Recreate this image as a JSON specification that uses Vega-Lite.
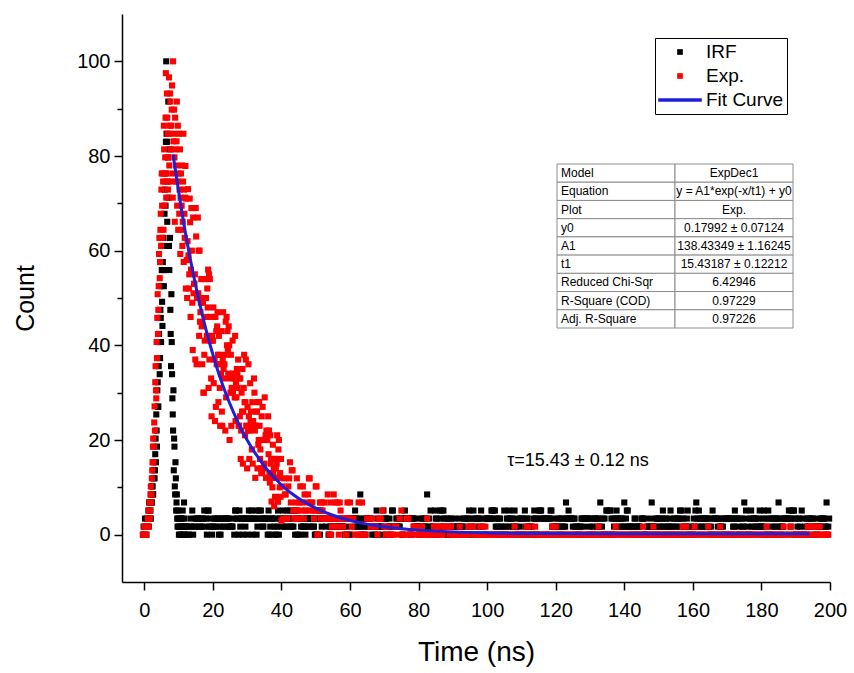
{
"$schema":"https://vega.github.io/schema/vega-lite/v6.json",
"width":708,"height":568,"autosize":"none",
"padding":{"left":122,"top":14,"right":24,"bottom":91},
"config":{"view":{"stroke":null},"font":"Liberation Sans","axis":{"labelFont":"Liberation Sans","titleFont":"Liberation Sans","labelColor":"#000","titleColor":"#000","domainColor":"#000","tickColor":"#000","titleFontWeight":"normal","grid":false,"domainWidth":1.5,"tickWidth":1.5,"labelOverlap":false,"labelFlush":false}},
"datasets":{
"irf":[{"t":-0.4,"c":0},{"t":-0.2,"c":1.7},{"t":0,"c":0},{"t":0.2,"c":3.4},{"t":0.4,"c":1.7},{"t":0.6,"c":0},{"t":0.8,"c":3.4},{"t":1,"c":1.7},{"t":1.2,"c":5.1},{"t":1.4,"c":6.8},{"t":1.6,"c":3.4},{"t":1.8,"c":5.1},{"t":2,"c":8.5},{"t":2.2,"c":6.8},{"t":2.4,"c":10.2},{"t":2.6,"c":8.5},{"t":2.8,"c":13.6},{"t":3,"c":11.9},{"t":3.2,"c":17},{"t":3.4,"c":15.3},{"t":3.6,"c":22},{"t":3.8,"c":30.5},{"t":4,"c":27},{"t":4.2,"c":35.6},{"t":4.4,"c":40.7},{"t":4.6,"c":37.3},{"t":4.8,"c":45.8},{"t":5,"c":52.5},{"t":5.2,"c":49.2},{"t":5.4,"c":57.6},{"t":5.6,"c":62.7},{"t":5.8,"c":55.9},{"t":6,"c":72.9},{"t":6.2,"c":69.5},{"t":6.4,"c":100},{"t":6.6,"c":83},{"t":6.8,"c":74.6},{"t":7,"c":91.5},{"t":7.2,"c":61},{"t":7.4,"c":81.4},{"t":7.6,"c":47.5},{"t":7.8,"c":35.6},{"t":8,"c":40.7},{"t":8.2,"c":28.8},{"t":8.4,"c":22},{"t":8.6,"c":13.6},{"t":8.8,"c":18.6},{"t":9,"c":8.5},{"t":9.2,"c":11.9},{"t":9.4,"c":6.8},{"t":9.6,"c":3.4},{"t":9.8,"c":5.1},{"t":10,"c":1.7},{"t":10.2,"c":3.4},{"t":10.4,"c":0},{"t":10.6,"c":1.7},{"t":10.8,"c":3.4},{"t":11,"c":1.7},{"t":11.2,"c":5.1},{"t":11.4,"c":0},{"t":11.6,"c":6.8},{"t":11.8,"c":1.7},
{"t":1.1,"c":3.4},{"t":1.3,"c":1.7},{"t":1.5,"c":5.1},{"t":1.7,"c":6.8},{"t":1.9,"c":3.4},{"t":2.1,"c":6.8},{"t":2.3,"c":10.2},{"t":2.5,"c":8.5},{"t":2.7,"c":11.9},{"t":2.9,"c":15.3},{"t":3.1,"c":13.6},{"t":3.3,"c":20.3},{"t":3.5,"c":25.4},{"t":3.7,"c":18.6},{"t":3.9,"c":32.2},{"t":4.1,"c":27.1},{"t":4.3,"c":42.4},{"t":4.5,"c":33.9},{"t":4.7,"c":47.5},{"t":4.9,"c":40.7},{"t":5.1,"c":55.9},{"t":5.3,"c":44.1},{"t":5.5,"c":61},{"t":5.7,"c":52.5},{"t":5.9,"c":67.8},{"t":6.1,"c":76.3},{"t":6.3,"c":83},{"t":6.5,"c":84.7},{"t":6.7,"c":66.1},{"t":6.9,"c":79.7},{"t":7.1,"c":71.2},{"t":7.3,"c":55.9},{"t":7.5,"c":62.7},{"t":7.7,"c":42.4},{"t":7.9,"c":50.8},{"t":8.1,"c":33.9},{"t":8.3,"c":25.4},{"t":8.5,"c":30.5},{"t":8.7,"c":20.3},{"t":8.9,"c":10.2},{"t":9.1,"c":15.3},{"t":9.3,"c":5.1},{"t":9.5,"c":8.5},{"t":9.7,"c":1.7},{"t":9.9,"c":3.4},{"t":10.1,"c":0},{"t":10.3,"c":1.7},{"t":10.5,"c":3.4},{"t":10.7,"c":0},{"t":10.9,"c":1.7},{"t":11.1,"c":3.4},{"t":11.3,"c":1.7},{"t":11.5,"c":0},{"t":11.7,"c":3.4},{"t":11.9,"c":1.7},
{"t":12,"c":0},{"t":12.5,"c":1.7},{"t":13,"c":0},{"t":13.5,"c":3.4},{"t":14,"c":5.1},{"t":14.5,"c":1.7},{"t":15,"c":3.4},{"t":15.5,"c":3.4},{"t":16,"c":1.7},{"t":16.5,"c":3.4},
{"t":17,"c":3.4},{"t":17.5,"c":5.1},{"t":18,"c":3.4},{"t":18.5,"c":5.1},{"t":19,"c":1.7},{"t":19.5,"c":1.7},{"t":20,"c":1.7},{"t":20.5,"c":3.4},{"t":21,"c":1.7},{"t":21.5,"c":3.4},
{"t":22,"c":1.7},{"t":22.5,"c":3.4},{"t":23,"c":1.7},{"t":23.5,"c":1.7},{"t":24,"c":3.4},{"t":24.5,"c":3.4},{"t":25,"c":1.7},{"t":25.5,"c":1.7},{"t":26,"c":3.4},{"t":26.5,"c":5.1},
{"t":27,"c":3.4},{"t":27.5,"c":0},{"t":28,"c":1.7},{"t":28.5,"c":3.4},{"t":29,"c":3.4},{"t":29.5,"c":1.7},{"t":30,"c":0},{"t":30.5,"c":5.1},{"t":31,"c":3.4},{"t":31.5,"c":0},
{"t":32,"c":3.4},{"t":32.5,"c":5.1},{"t":33,"c":1.7},{"t":33.5,"c":5.1},{"t":34,"c":5.1},{"t":34.5,"c":1.7},{"t":35,"c":3.4},{"t":35.5,"c":3.4},{"t":36,"c":0},{"t":36.5,"c":0},
{"t":37,"c":3.4},{"t":37.5,"c":3.4},{"t":38,"c":1.7},{"t":38.5,"c":0},{"t":39,"c":5.1},{"t":39.5,"c":3.4},{"t":40,"c":1.7},{"t":40.5,"c":5.1},{"t":41,"c":1.7},{"t":41.5,"c":1.7},
{"t":42,"c":3.4},{"t":42.5,"c":5.1},{"t":43,"c":1.7},{"t":43.5,"c":1.7},{"t":44,"c":0},{"t":44.5,"c":3.4},{"t":45,"c":3.4},{"t":45.5,"c":0},{"t":46,"c":3.4},{"t":46.5,"c":1.7},
{"t":47,"c":0},{"t":47.5,"c":3.4},{"t":48,"c":1.7},{"t":48.5,"c":3.4},{"t":49,"c":3.4},{"t":49.5,"c":1.7},{"t":50,"c":0},{"t":50.5,"c":3.4},{"t":51,"c":5.1},{"t":51.5,"c":5.1},
{"t":52,"c":3.4},{"t":52.5,"c":3.4},{"t":53,"c":1.7},{"t":53.5,"c":3.4},{"t":54,"c":0},{"t":54.5,"c":1.7},{"t":55,"c":1.7},{"t":55.5,"c":3.4},{"t":56,"c":1.7},{"t":56.5,"c":3.4},
{"t":57,"c":1.7},{"t":57.5,"c":1.7},{"t":58,"c":1.7},{"t":58.5,"c":0},{"t":59,"c":0},{"t":59.5,"c":3.4},{"t":60,"c":0},{"t":60.5,"c":3.4},{"t":61,"c":3.4},{"t":61.5,"c":5.1},
{"t":62,"c":3.4},{"t":62.5,"c":1.7},{"t":63,"c":8.5},{"t":63.5,"c":1.7},{"t":64,"c":3.4},{"t":64.5,"c":0},{"t":65,"c":3.4},{"t":65.5,"c":3.4},{"t":66,"c":3.4},{"t":66.5,"c":0},
{"t":67,"c":1.7},{"t":67.5,"c":1.7},{"t":68,"c":3.4},{"t":68.5,"c":1.7},{"t":69,"c":1.7},{"t":69.5,"c":0},{"t":70,"c":3.4},{"t":70.5,"c":3.4},{"t":71,"c":1.7},{"t":71.5,"c":3.4},
{"t":72,"c":0},{"t":72.5,"c":5.1},{"t":73,"c":1.7},{"t":73.5,"c":3.4},{"t":74,"c":1.7},{"t":74.5,"c":1.7},{"t":75,"c":3.4},{"t":75.5,"c":0},{"t":76,"c":5.1},{"t":76.5,"c":3.4},
{"t":77,"c":3.4},{"t":77.5,"c":0},{"t":78,"c":3.4},{"t":78.5,"c":3.4},{"t":79,"c":1.7},{"t":79.5,"c":1.7},{"t":80,"c":1.7},{"t":80.5,"c":0},{"t":81,"c":3.4},{"t":81.5,"c":1.7},
{"t":82,"c":3.4},{"t":82.5,"c":8.5},{"t":83,"c":3.4},{"t":83.5,"c":5.1},{"t":84,"c":1.7},{"t":84.5,"c":0},{"t":85,"c":3.4},{"t":85.5,"c":0},{"t":86,"c":1.7},{"t":86.5,"c":3.4},
{"t":87,"c":1.7},{"t":87.5,"c":3.4},{"t":88,"c":0},{"t":88.5,"c":0},{"t":89,"c":0},{"t":89.5,"c":3.4},{"t":90,"c":1.7},{"t":90.5,"c":3.4},{"t":91,"c":0},{"t":91.5,"c":1.7},
{"t":92,"c":3.4},{"t":92.5,"c":1.7},{"t":93,"c":0},{"t":93.5,"c":0},{"t":94,"c":1.7},{"t":94.5,"c":3.4},{"t":95,"c":0},{"t":95.5,"c":0},{"t":96,"c":5.1},{"t":96.5,"c":1.7},
{"t":97,"c":3.4},{"t":97.5,"c":3.4},{"t":98,"c":1.7},{"t":98.5,"c":0},{"t":99,"c":0},{"t":99.5,"c":0},{"t":100,"c":3.4},{"t":100.5,"c":3.4},{"t":101,"c":3.4},{"t":101.5,"c":5.1},
{"t":102,"c":3.4},{"t":102.5,"c":1.7},{"t":103,"c":1.7},{"t":103.5,"c":3.4},{"t":104,"c":1.7},{"t":104.5,"c":1.7},{"t":105,"c":5.1},{"t":105.5,"c":1.7},{"t":106,"c":3.4},{"t":106.5,"c":5.1},
{"t":107,"c":3.4},{"t":107.5,"c":1.7},{"t":108,"c":5.1},{"t":108.5,"c":1.7},{"t":109,"c":0},{"t":109.5,"c":1.7},{"t":110,"c":3.4},{"t":110.5,"c":0},{"t":111,"c":5.1},{"t":111.5,"c":3.4},
{"t":112,"c":1.7},{"t":112.5,"c":1.7},{"t":113,"c":1.7},{"t":113.5,"c":3.4},{"t":114,"c":3.4},{"t":114.5,"c":0},{"t":115,"c":0},{"t":115.5,"c":5.1},{"t":116,"c":3.4},{"t":116.5,"c":3.4},
{"t":117,"c":3.4},{"t":117.5,"c":3.4},{"t":118,"c":3.4},{"t":118.5,"c":5.1},{"t":119,"c":1.7},{"t":119.5,"c":1.7},{"t":120,"c":1.7},{"t":120.5,"c":1.7},{"t":121,"c":3.4},{"t":121.5,"c":0},
{"t":122,"c":1.7},{"t":122.5,"c":3.4},{"t":123,"c":6.8},{"t":123.5,"c":3.4},{"t":124,"c":3.4},{"t":124.5,"c":3.4},{"t":125,"c":1.7},{"t":125.5,"c":3.4},{"t":126,"c":1.7},{"t":126.5,"c":1.7},
{"t":127,"c":1.7},{"t":127.5,"c":3.4},{"t":128,"c":3.4},{"t":128.5,"c":3.4},{"t":129,"c":3.4},{"t":129.5,"c":3.4},{"t":130,"c":1.7},{"t":130.5,"c":0},{"t":131,"c":3.4},{"t":131.5,"c":3.4},
{"t":132,"c":1.7},{"t":132.5,"c":3.4},{"t":133,"c":6.8},{"t":133.5,"c":1.7},{"t":134,"c":0},{"t":134.5,"c":0},{"t":135,"c":5.1},{"t":135.5,"c":0},{"t":136,"c":5.1},{"t":136.5,"c":0},
{"t":137,"c":1.7},{"t":137.5,"c":3.4},{"t":138,"c":3.4},{"t":138.5,"c":1.7},{"t":139,"c":3.4},{"t":139.5,"c":3.4},{"t":140,"c":6.8},{"t":140.5,"c":3.4},{"t":141,"c":5.1},{"t":141.5,"c":1.7},
{"t":142,"c":1.7},{"t":142.5,"c":1.7},{"t":143,"c":3.4},{"t":143.5,"c":0},{"t":144,"c":1.7},{"t":144.5,"c":1.7},{"t":145,"c":3.4},{"t":145.5,"c":3.4},{"t":146,"c":0},{"t":146.5,"c":0},
{"t":147,"c":1.7},{"t":147.5,"c":3.4},{"t":148,"c":6.8},{"t":148.5,"c":1.7},{"t":149,"c":1.7},{"t":149.5,"c":3.4},{"t":150,"c":3.4},{"t":150.5,"c":1.7},{"t":151,"c":3.4},{"t":151.5,"c":1.7},
{"t":152,"c":0},{"t":152.5,"c":1.7},{"t":153,"c":1.7},{"t":153.5,"c":5.1},{"t":154,"c":1.7},{"t":154.5,"c":3.4},{"t":155,"c":0},{"t":155.5,"c":3.4},{"t":156,"c":1.7},{"t":156.5,"c":3.4},
{"t":157,"c":0},{"t":157.5,"c":1.7},{"t":158,"c":1.7},{"t":158.5,"c":5.1},{"t":159,"c":0},{"t":159.5,"c":1.7},{"t":160,"c":0},{"t":160.5,"c":1.7},{"t":161,"c":6.8},{"t":161.5,"c":1.7},
{"t":162,"c":3.4},{"t":162.5,"c":1.7},{"t":163,"c":1.7},{"t":163.5,"c":3.4},{"t":164,"c":3.4},{"t":164.5,"c":3.4},{"t":165,"c":0},{"t":165.5,"c":0},{"t":166,"c":3.4},{"t":166.5,"c":3.4},
{"t":167,"c":0},{"t":167.5,"c":3.4},{"t":168,"c":1.7},{"t":168.5,"c":0},{"t":169,"c":3.4},{"t":169.5,"c":3.4},{"t":170,"c":3.4},{"t":170.5,"c":3.4},{"t":171,"c":0},{"t":171.5,"c":3.4},
{"t":172,"c":1.7},{"t":172.5,"c":3.4},{"t":173,"c":3.4},{"t":173.5,"c":0},{"t":174,"c":3.4},{"t":174.5,"c":1.7},{"t":175,"c":6.8},{"t":175.5,"c":5.1},{"t":176,"c":1.7},{"t":176.5,"c":0},
{"t":177,"c":5.1},{"t":177.5,"c":3.4},{"t":178,"c":1.7},{"t":178.5,"c":3.4},{"t":179,"c":1.7},{"t":179.5,"c":5.1},{"t":180,"c":1.7},{"t":180.5,"c":3.4},{"t":181,"c":1.7},{"t":181.5,"c":0},
{"t":182,"c":5.1},{"t":182.5,"c":0},{"t":183,"c":3.4},{"t":183.5,"c":0},{"t":184,"c":3.4},{"t":184.5,"c":1.7},{"t":185,"c":6.8},{"t":185.5,"c":1.7},{"t":186,"c":1.7},{"t":186.5,"c":3.4},
{"t":187,"c":3.4},{"t":187.5,"c":3.4},{"t":188,"c":5.1},{"t":188.5,"c":1.7},{"t":189,"c":3.4},{"t":189.5,"c":5.1},{"t":190,"c":0},{"t":190.5,"c":1.7},{"t":191,"c":3.4},{"t":191.5,"c":0},
{"t":192,"c":0},{"t":192.5,"c":0},{"t":193,"c":0},{"t":193.5,"c":1.7},{"t":194,"c":1.7},{"t":194.5,"c":0},{"t":195,"c":3.4},{"t":195.5,"c":1.7},{"t":196,"c":0},{"t":196.5,"c":3.4},
{"t":197,"c":1.7},{"t":197.5,"c":3.4},{"t":198,"c":3.4},{"t":198.5,"c":1.7},{"t":199,"c":6.8},{"t":199.5,"c":1.7},
{"t":12.25,"c":1.7},{"t":12.75,"c":0},{"t":13.25,"c":1.7},{"t":13.75,"c":1.7},{"t":14.25,"c":0},{"t":14.75,"c":1.7},{"t":15.25,"c":3.4},{"t":15.75,"c":3.4},{"t":16.25,"c":1.7},{"t":16.75,"c":1.7},
{"t":17.25,"c":3.4},{"t":17.75,"c":1.7},{"t":18.25,"c":0},{"t":18.75,"c":5.1},{"t":19.25,"c":3.4},{"t":19.75,"c":0},{"t":20.25,"c":1.7},{"t":20.75,"c":3.4},{"t":21.25,"c":3.4},{"t":21.75,"c":0},
{"t":22.25,"c":0},{"t":22.75,"c":3.4},{"t":23.25,"c":3.4},{"t":23.75,"c":3.4},{"t":24.25,"c":3.4},{"t":24.75,"c":1.7},{"t":25.25,"c":1.7},{"t":25.75,"c":1.7},{"t":26.25,"c":0},{"t":26.75,"c":5.1},
{"t":27.25,"c":3.4},{"t":27.75,"c":5.1},{"t":28.25,"c":3.4},{"t":28.75,"c":0},{"t":29.25,"c":3.4},{"t":29.75,"c":3.4},{"t":30.25,"c":3.4},{"t":30.75,"c":3.4},{"t":31.25,"c":5.1},{"t":31.75,"c":3.4},
{"t":32.25,"c":3.4},{"t":32.75,"c":0},{"t":33.25,"c":3.4},{"t":33.75,"c":3.4},{"t":34.25,"c":3.4},{"t":34.75,"c":1.7},{"t":35.25,"c":3.4},{"t":35.75,"c":3.4},{"t":36.25,"c":5.1},{"t":36.75,"c":1.7},
{"t":37.25,"c":3.4},{"t":37.75,"c":0},{"t":38.25,"c":3.4},{"t":38.75,"c":1.7},{"t":39.25,"c":0},{"t":39.75,"c":3.4},{"t":40.25,"c":3.4},{"t":40.75,"c":3.4},{"t":41.25,"c":3.4},{"t":41.75,"c":5.1},
{"t":42.25,"c":3.4},{"t":42.75,"c":1.7},{"t":43.25,"c":3.4},{"t":43.75,"c":5.1},{"t":44.25,"c":5.1},{"t":44.75,"c":0},{"t":45.25,"c":3.4},{"t":45.75,"c":1.7},{"t":46.25,"c":1.7},{"t":46.75,"c":1.7},
{"t":47.25,"c":3.4},{"t":47.75,"c":3.4},{"t":48.25,"c":1.7},{"t":48.75,"c":3.4},{"t":49.25,"c":1.7},{"t":49.75,"c":0},{"t":50.25,"c":0},{"t":50.75,"c":3.4},{"t":51.25,"c":0},{"t":51.75,"c":1.7},
{"t":52.25,"c":3.4},{"t":52.75,"c":3.4},{"t":53.25,"c":3.4},{"t":53.75,"c":0},{"t":54.25,"c":1.7},{"t":54.75,"c":3.4},{"t":55.25,"c":3.4},{"t":55.75,"c":3.4},{"t":56.25,"c":1.7},{"t":56.75,"c":1.7},
{"t":57.25,"c":1.7},{"t":57.75,"c":1.7},{"t":58.25,"c":3.4},{"t":58.75,"c":3.4},{"t":59.25,"c":1.7},{"t":59.75,"c":0},{"t":60.25,"c":3.4},{"t":60.75,"c":3.4},{"t":61.25,"c":1.7},{"t":61.75,"c":3.4},
{"t":62.25,"c":1.7},{"t":62.75,"c":3.4},{"t":63.25,"c":0},{"t":63.75,"c":0},{"t":64.25,"c":1.7},{"t":64.75,"c":3.4},{"t":65.25,"c":1.7},{"t":65.75,"c":3.4},{"t":66.25,"c":1.7},{"t":66.75,"c":1.7},
{"t":67.25,"c":0},{"t":67.75,"c":5.1},{"t":68.25,"c":0},{"t":68.75,"c":1.7},{"t":69.25,"c":1.7},{"t":69.75,"c":5.1},{"t":70.25,"c":3.4},{"t":70.75,"c":0},{"t":71.25,"c":1.7},{"t":71.75,"c":1.7},
{"t":72.25,"c":5.1},{"t":72.75,"c":1.7},{"t":73.25,"c":1.7},{"t":73.75,"c":3.4},{"t":74.25,"c":1.7},{"t":74.75,"c":3.4},{"t":75.25,"c":0},{"t":75.75,"c":3.4},{"t":76.25,"c":3.4},{"t":76.75,"c":3.4},
{"t":77.25,"c":3.4},{"t":77.75,"c":0},{"t":78.25,"c":3.4},{"t":78.75,"c":1.7},{"t":79.25,"c":3.4},{"t":79.75,"c":1.7},{"t":80.25,"c":0},{"t":80.75,"c":1.7},{"t":81.25,"c":3.4},{"t":81.75,"c":1.7},
{"t":82.25,"c":1.7},{"t":82.75,"c":0},{"t":83.25,"c":1.7},{"t":83.75,"c":0},{"t":84.25,"c":1.7},{"t":84.75,"c":5.1},{"t":85.25,"c":3.4},{"t":85.75,"c":0},{"t":86.25,"c":5.1},{"t":86.75,"c":5.1},
{"t":87.25,"c":5.1},{"t":87.75,"c":1.7},{"t":88.25,"c":3.4},{"t":88.75,"c":3.4},{"t":89.25,"c":1.7},{"t":89.75,"c":0},{"t":90.25,"c":1.7},{"t":90.75,"c":0},{"t":91.25,"c":1.7},{"t":91.75,"c":1.7},
{"t":92.25,"c":1.7},{"t":92.75,"c":1.7},{"t":93.25,"c":3.4},{"t":93.75,"c":3.4},{"t":94.25,"c":3.4},{"t":94.75,"c":5.1},{"t":95.25,"c":1.7},{"t":95.75,"c":3.4},{"t":96.25,"c":3.4},{"t":96.75,"c":0},
{"t":97.25,"c":3.4},{"t":97.75,"c":3.4},{"t":98.25,"c":5.1},{"t":98.75,"c":1.7},{"t":99.25,"c":3.4},{"t":99.75,"c":3.4},{"t":100.25,"c":3.4},{"t":100.75,"c":3.4},{"t":101.25,"c":5.1},{"t":101.75,"c":5.1},
{"t":102.25,"c":5.1},{"t":102.75,"c":3.4},{"t":103.25,"c":0},{"t":103.75,"c":3.4},{"t":104.25,"c":0},{"t":104.75,"c":0},{"t":105.25,"c":0},{"t":105.75,"c":3.4},{"t":106.25,"c":1.7},{"t":106.75,"c":3.4},
{"t":107.25,"c":3.4},{"t":107.75,"c":1.7},{"t":108.25,"c":0},{"t":108.75,"c":3.4},{"t":109.25,"c":0},{"t":109.75,"c":3.4},{"t":110.25,"c":3.4},{"t":110.75,"c":0},{"t":111.25,"c":1.7},{"t":111.75,"c":3.4},
{"t":112.25,"c":0},{"t":112.75,"c":0},{"t":113.25,"c":0},{"t":113.75,"c":5.1},{"t":114.25,"c":3.4},{"t":114.75,"c":3.4},{"t":115.25,"c":5.1},{"t":115.75,"c":5.1},{"t":116.25,"c":3.4},{"t":116.75,"c":0},
{"t":117.25,"c":3.4},{"t":117.75,"c":0},{"t":118.25,"c":3.4},{"t":118.75,"c":5.1},{"t":119.25,"c":3.4},{"t":119.75,"c":0},{"t":120.25,"c":1.7},{"t":120.75,"c":3.4},{"t":121.25,"c":1.7},{"t":121.75,"c":3.4},
{"t":122.25,"c":1.7},{"t":122.75,"c":1.7},{"t":123.25,"c":3.4},{"t":123.75,"c":5.1},{"t":124.25,"c":3.4},{"t":124.75,"c":3.4},{"t":125.25,"c":3.4},{"t":125.75,"c":1.7},{"t":126.25,"c":0},{"t":126.75,"c":0},
{"t":127.25,"c":1.7},{"t":127.75,"c":3.4},{"t":128.25,"c":1.7},{"t":128.75,"c":3.4},{"t":129.25,"c":3.4},{"t":129.75,"c":0},{"t":130.25,"c":3.4},{"t":130.75,"c":1.7},{"t":131.25,"c":0},{"t":131.75,"c":3.4},
{"t":132.25,"c":3.4},{"t":132.75,"c":1.7},{"t":133.25,"c":0},{"t":133.75,"c":3.4},{"t":134.25,"c":3.4},{"t":134.75,"c":5.1},{"t":135.25,"c":0},{"t":135.75,"c":5.1},{"t":136.25,"c":3.4},{"t":136.75,"c":3.4},
{"t":137.25,"c":0},{"t":137.75,"c":5.1},{"t":138.25,"c":3.4},{"t":138.75,"c":3.4},{"t":139.25,"c":1.7},{"t":139.75,"c":1.7},{"t":140.25,"c":1.7},{"t":140.75,"c":5.1},{"t":141.25,"c":1.7},{"t":141.75,"c":1.7},
{"t":142.25,"c":0},{"t":142.75,"c":1.7},{"t":143.25,"c":3.4},{"t":143.75,"c":1.7},{"t":144.25,"c":1.7},{"t":144.75,"c":0},{"t":145.25,"c":3.4},{"t":145.75,"c":3.4},{"t":146.25,"c":0},{"t":146.75,"c":1.7},
{"t":147.25,"c":1.7},{"t":147.75,"c":1.7},{"t":148.25,"c":0},{"t":148.75,"c":1.7},{"t":149.25,"c":3.4},{"t":149.75,"c":0},{"t":150.25,"c":3.4},{"t":150.75,"c":1.7},{"t":151.25,"c":5.1},{"t":151.75,"c":3.4},
{"t":152.25,"c":3.4},{"t":152.75,"c":1.7},{"t":153.25,"c":3.4},{"t":153.75,"c":0},{"t":154.25,"c":1.7},{"t":154.75,"c":3.4},{"t":155.25,"c":1.7},{"t":155.75,"c":3.4},{"t":156.25,"c":5.1},{"t":156.75,"c":5.1},
{"t":157.25,"c":3.4},{"t":157.75,"c":1.7},{"t":158.25,"c":3.4},{"t":158.75,"c":0},{"t":159.25,"c":1.7},{"t":159.75,"c":0},{"t":160.25,"c":3.4},{"t":160.75,"c":5.1},{"t":161.25,"c":3.4},{"t":161.75,"c":5.1},
{"t":162.25,"c":3.4},{"t":162.75,"c":3.4},{"t":163.25,"c":3.4},{"t":163.75,"c":1.7},{"t":164.25,"c":3.4},{"t":164.75,"c":1.7},{"t":165.25,"c":1.7},{"t":165.75,"c":5.1},{"t":166.25,"c":3.4},{"t":166.75,"c":3.4},
{"t":167.25,"c":1.7},{"t":167.75,"c":3.4},{"t":168.25,"c":1.7},{"t":168.75,"c":1.7},{"t":169.25,"c":0},{"t":169.75,"c":3.4},{"t":170.25,"c":0},{"t":170.75,"c":3.4},{"t":171.25,"c":3.4},{"t":171.75,"c":1.7},
{"t":172.25,"c":5.1},{"t":172.75,"c":3.4},{"t":173.25,"c":1.7},{"t":173.75,"c":0},{"t":174.25,"c":3.4},{"t":174.75,"c":1.7},{"t":175.25,"c":0},{"t":175.75,"c":3.4},{"t":176.25,"c":0},{"t":176.75,"c":3.4},
{"t":177.25,"c":1.7},{"t":177.75,"c":3.4},{"t":178.25,"c":3.4},{"t":178.75,"c":1.7},{"t":179.25,"c":3.4},{"t":179.75,"c":1.7},{"t":180.25,"c":1.7},{"t":180.75,"c":5.1},{"t":181.25,"c":3.4},{"t":181.75,"c":0},
{"t":182.25,"c":3.4},{"t":182.75,"c":1.7},{"t":183.25,"c":3.4},{"t":183.75,"c":1.7},{"t":184.25,"c":3.4},{"t":184.75,"c":3.4},{"t":185.25,"c":3.4},{"t":185.75,"c":0},{"t":186.25,"c":1.7},{"t":186.75,"c":3.4},
{"t":187.25,"c":3.4},{"t":187.75,"c":3.4},{"t":188.25,"c":3.4},{"t":188.75,"c":5.1},{"t":189.25,"c":5.1},{"t":189.75,"c":3.4},{"t":190.25,"c":0},{"t":190.75,"c":3.4},{"t":191.25,"c":1.7},{"t":191.75,"c":5.1},
{"t":192.25,"c":3.4},{"t":192.75,"c":1.7},{"t":193.25,"c":3.4},{"t":193.75,"c":3.4},{"t":194.25,"c":3.4},{"t":194.75,"c":3.4},{"t":195.25,"c":1.7},{"t":195.75,"c":1.7},{"t":196.25,"c":0},{"t":196.75,"c":1.7},
{"t":197.25,"c":1.7},{"t":197.75,"c":3.4},{"t":198.25,"c":3.4},{"t":198.75,"c":1.7},{"t":199.25,"c":0},{"t":199.75,"c":3.4}],
"exp":[{"t":-0.4,"c":0},{"t":-0.2,"c":0},{"t":0,"c":1.7},{"t":0.2,"c":0},{"t":0.4,"c":1.7},{"t":0.6,"c":0},{"t":0.8,"c":1.7},{"t":1,"c":3.4},{"t":1.2,"c":1.7},{"t":1.4,"c":5.1},{"t":1.6,"c":3.4},{"t":1.8,"c":8.5},{"t":2,"c":6.8},{"t":2.2,"c":11.9},{"t":2.4,"c":15.3},{"t":2.6,"c":20.3},{"t":2.8,"c":18.6},{"t":3,"c":27.1},{"t":3.2,"c":32.2},{"t":3.4,"c":30.5},{"t":3.6,"c":40.7},{"t":3.8,"c":45.8},{"t":4,"c":42.4},{"t":4.2,"c":52.5},{"t":4.4,"c":62.7},{"t":4.6,"c":57.6},{"t":4.8,"c":67.8},{"t":5,"c":72.9},{"t":5.2,"c":69.5},{"t":5.4,"c":76.3},{"t":5.6,"c":64.4},{"t":5.8,"c":81.4},{"t":6,"c":74.6},{"t":6.2,"c":88.1},{"t":6.4,"c":71.2},{"t":6.6,"c":93.2},{"t":6.8,"c":84.7},{"t":7,"c":79.7},{"t":7.2,"c":96.6},{"t":7.4,"c":86.4},{"t":7.6,"c":91.5},{"t":7.8,"c":81.4},{"t":8,"c":89.8},{"t":8.2,"c":76.3},{"t":8.4,"c":100},{"t":8.6,"c":84.7},{"t":8.8,"c":79.7},{"t":9,"c":88.1},{"t":9.2,"c":74.6},{"t":9.4,"c":83.1},{"t":9.6,"c":69.5},{"t":9.8,"c":86.4},{"t":10,"c":76.3},{"t":10.2,"c":67.8},{"t":10.4,"c":81.4},{"t":10.6,"c":71.2},{"t":10.8,"c":64.4},{"t":11,"c":78},{"t":11.2,"c":66.1},{"t":11.4,"c":84.7},{"t":11.6,"c":72.9},{"t":11.8,"c":62.7},{"t":12,"c":77.9},
{"t":1.1,"c":1.7},{"t":1.3,"c":3.4},{"t":1.5,"c":6.8},{"t":1.7,"c":5.1},{"t":1.9,"c":10.2},{"t":2.1,"c":8.5},{"t":2.3,"c":13.6},{"t":2.5,"c":18.6},{"t":2.7,"c":15.3},{"t":2.9,"c":23.7},{"t":3.1,"c":22},{"t":3.3,"c":35.6},{"t":3.5,"c":28.8},{"t":3.7,"c":37.3},{"t":3.9,"c":50.8},{"t":4.1,"c":47.5},{"t":4.3,"c":59.3},{"t":4.5,"c":54.2},{"t":4.7,"c":64.4},{"t":4.9,"c":61},{"t":5.1,"c":76.3},{"t":5.3,"c":62.7},{"t":5.5,"c":74.6},{"t":5.7,"c":86.4},{"t":5.9,"c":69.5},{"t":6.1,"c":79.7},{"t":6.3,"c":97.5},{"t":6.5,"c":76.3},{"t":6.7,"c":88.1},{"t":6.9,"c":72.9},{"t":7.1,"c":84.7},{"t":7.3,"c":78},{"t":7.5,"c":93.2},{"t":7.7,"c":74.6},{"t":7.9,"c":86.4},{"t":8.1,"c":94.9},{"t":8.3,"c":71.2},{"t":8.5,"c":83.1},{"t":8.7,"c":89.8},{"t":8.9,"c":66.1},{"t":9.1,"c":81.4},{"t":9.3,"c":78},{"t":9.5,"c":91.5},{"t":9.7,"c":74.6},{"t":9.9,"c":64.4},{"t":10.1,"c":84.7},{"t":10.3,"c":72.9},{"t":10.5,"c":59.3},{"t":10.7,"c":76.3},{"t":10.9,"c":69.5},{"t":11.1,"c":61},{"t":11.3,"c":74.6},{"t":11.5,"c":57.6},{"t":11.7,"c":67.8},{"t":11.9,"c":71.2},
{"t":12.25,"c":71},{"t":12.5,"c":50},{"t":12.75,"c":73},{"t":13,"c":52},{"t":13.25,"c":71},{"t":13.5,"c":46},{"t":13.75,"c":69},{"t":14,"c":49},{"t":14.25,"c":67},{"t":14.5,"c":53},{"t":14.75,"c":55},{"t":15,"c":69},{"t":15.25,"c":36},{"t":15.5,"c":50},{"t":15.75,"c":51},{"t":16,"c":42},{"t":16.25,"c":45},{"t":16.5,"c":49},{"t":16.75,"c":44},{"t":17,"c":50},{"t":17.25,"c":30},{"t":17.5,"c":38},{"t":17.75,"c":54},{"t":18,"c":50},{"t":18.25,"c":42},{"t":18.5,"c":48},{"t":18.75,"c":31},{"t":19,"c":37},{"t":19.25,"c":41},{"t":19.5,"c":33},{"t":19.75,"c":42},{"t":20,"c":41},{"t":20.25,"c":32},{"t":20.5,"c":37},{"t":20.75,"c":46},{"t":21,"c":43},{"t":21.25,"c":44},{"t":21.5,"c":38},{"t":21.75,"c":42},{"t":22,"c":31},{"t":22.25,"c":36},{"t":22.5,"c":43},{"t":22.75,"c":23},{"t":23,"c":47},{"t":23.25,"c":33},{"t":23.5,"c":38},{"t":23.75,"c":45},{"t":24,"c":46},{"t":24.25,"c":43},{"t":24.5,"c":34},{"t":24.75,"c":40},{"t":25,"c":33},{"t":25.25,"c":38},{"t":25.5,"c":31},{"t":25.75,"c":41},{"t":26,"c":34},{"t":26.25,"c":33},{"t":26.5,"c":42},{"t":26.75,"c":32},{"t":27,"c":35},{"t":27.25,"c":31},{"t":27.5,"c":23},{"t":27.75,"c":33},{"t":28,"c":33},{"t":28.25,"c":22},{"t":28.5,"c":26},{"t":28.75,"c":15},{"t":29,"c":31},{"t":29.25,"c":28},{"t":29.5,"c":28},{"t":29.75,"c":23},{"t":30,"c":14},{"t":30.25,"c":22},{"t":30.5,"c":25},{"t":30.75,"c":22},{"t":31,"c":24},{"t":31.25,"c":23},{"t":31.5,"c":28},{"t":31.75,"c":24},{"t":32,"c":33},{"t":32.25,"c":22},{"t":32.5,"c":23},{"t":32.75,"c":26},{"t":33,"c":14},{"t":33.25,"c":19},{"t":33.5,"c":28},{"t":33.75,"c":16},{"t":34,"c":14},{"t":34.25,"c":25},{"t":34.5,"c":27},{"t":34.75,"c":20},{"t":35,"c":15},{"t":35.25,"c":20},{"t":35.5,"c":12},{"t":35.75,"c":21},{"t":36,"c":21},{"t":36.25,"c":17},{"t":36.5,"c":13},{"t":36.75,"c":21},{"t":37,"c":16},{"t":37.25,"c":12},{"t":37.5,"c":19},{"t":37.75,"c":14},{"t":38,"c":16},{"t":38.25,"c":16},{"t":38.5,"c":12},{"t":38.75,"c":21},{"t":39,"c":7},{"t":39.25,"c":20},{"t":39.5,"c":10},{"t":39.75,"c":8},{"t":40,"c":3},
{"t":12.125,"c":52},{"t":12.375,"c":58},{"t":12.625,"c":62},{"t":12.875,"c":59},{"t":13.125,"c":55},{"t":13.375,"c":66},{"t":13.625,"c":56},{"t":13.875,"c":60},{"t":14.125,"c":39},{"t":14.375,"c":51},{"t":14.625,"c":53},{"t":14.875,"c":37},{"t":15.125,"c":63},{"t":15.375,"c":50},{"t":15.625,"c":67},{"t":15.875,"c":60},{"t":16.125,"c":60},{"t":16.375,"c":47},{"t":16.625,"c":54},{"t":16.875,"c":36},{"t":17.125,"c":49},{"t":17.375,"c":30},{"t":17.625,"c":41},{"t":17.875,"c":54},{"t":18.125,"c":46},{"t":18.375,"c":52},{"t":18.625,"c":56},{"t":18.875,"c":55},{"t":19.125,"c":54},{"t":19.375,"c":46},{"t":19.625,"c":25},{"t":19.875,"c":41},{"t":20.125,"c":48},{"t":20.375,"c":46},{"t":20.625,"c":24},{"t":20.875,"c":27},{"t":21.125,"c":36},{"t":21.375,"c":47},{"t":21.625,"c":28},{"t":21.875,"c":38},{"t":22.125,"c":23},{"t":22.375,"c":34},{"t":22.625,"c":26},{"t":22.875,"c":37},{"t":23.125,"c":35},{"t":23.375,"c":36},{"t":23.625,"c":22},{"t":23.875,"c":29},{"t":24.125,"c":40},{"t":24.375,"c":39},{"t":24.625,"c":44},{"t":24.875,"c":20},{"t":25.125,"c":30},{"t":25.375,"c":23},{"t":25.625,"c":34},{"t":25.875,"c":30},{"t":26.125,"c":31},{"t":26.375,"c":29},{"t":26.625,"c":24},{"t":26.875,"c":29},{"t":27.125,"c":34},{"t":27.375,"c":37},{"t":27.625,"c":23},{"t":27.875,"c":25},{"t":28.125,"c":16},{"t":28.375,"c":30},{"t":28.625,"c":35},{"t":28.875,"c":26},{"t":29.125,"c":38},{"t":29.375,"c":21},{"t":29.625,"c":37},{"t":29.875,"c":23},{"t":30.125,"c":27},{"t":30.375,"c":36},{"t":30.625,"c":16},{"t":30.875,"c":32},{"t":31.125,"c":26},{"t":31.375,"c":18},{"t":31.625,"c":15},{"t":31.875,"c":23},{"t":32.125,"c":30},{"t":32.375,"c":12},{"t":32.625,"c":23},{"t":32.875,"c":26},{"t":33.125,"c":28},{"t":33.375,"c":20},{"t":33.625,"c":23},{"t":33.875,"c":18},{"t":34.125,"c":13},{"t":34.375,"c":13},{"t":34.625,"c":14},{"t":34.875,"c":20},{"t":35.125,"c":29},{"t":35.375,"c":21},{"t":35.625,"c":22},{"t":35.875,"c":20},{"t":36.125,"c":25},{"t":36.375,"c":22},{"t":36.625,"c":11},{"t":36.875,"c":15},{"t":37.125,"c":7},{"t":37.375,"c":10},{"t":37.625,"c":13},{"t":37.875,"c":6},{"t":38.125,"c":8},{"t":38.375,"c":14},{"t":38.625,"c":15},{"t":38.875,"c":7},{"t":39.125,"c":18},{"t":39.375,"c":12},{"t":39.625,"c":13},{"t":39.875,"c":16},
{"t":40.25,"c":10.2},{"t":40.5,"c":3.4},{"t":40.75,"c":11.9},{"t":41,"c":8.5},{"t":41.25,"c":8.5},{"t":41.5,"c":3.4},{"t":41.75,"c":3.4},{"t":42,"c":10.2},{"t":42.25,"c":11.9},{"t":42.5,"c":15.3},{"t":42.75,"c":6.8},{"t":43,"c":13.6},{"t":43.25,"c":13.6},{"t":43.5,"c":5.1},{"t":43.75,"c":3.4},{"t":44,"c":3.4},{"t":44.25,"c":6.8},{"t":44.5,"c":11.9},{"t":44.75,"c":5.1},{"t":45,"c":3.4},{"t":45.25,"c":6.8},{"t":45.5,"c":10.2},{"t":45.75,"c":5.1},{"t":46,"c":6.8},{"t":46.25,"c":10.2},{"t":46.5,"c":3.4},{"t":46.75,"c":8.5},{"t":47,"c":5.1},{"t":47.25,"c":5.1},{"t":47.5,"c":6.8},{"t":47.75,"c":8.5},{"t":48,"c":11.9},{"t":48.25,"c":11.9},{"t":48.5,"c":6.8},{"t":48.75,"c":5.1},{"t":49,"c":6.8},{"t":49.25,"c":5.1},{"t":49.5,"c":3.4},{"t":49.75,"c":5.1},{"t":50,"c":10.2},{"t":50.25,"c":10.2},{"t":50.5,"c":0},{"t":50.75,"c":0},{"t":51,"c":5.1},{"t":51.25,"c":6.8},{"t":51.5,"c":3.4},{"t":51.75,"c":6.8},{"t":52,"c":5.1},{"t":52.25,"c":3.4},{"t":52.5,"c":6.8},{"t":52.75,"c":3.4},{"t":53,"c":3.4},{"t":53.25,"c":3.4},{"t":53.5,"c":8.5},{"t":53.75,"c":3.4},{"t":54,"c":0},{"t":54.25,"c":6.8},{"t":54.5,"c":0},{"t":54.75,"c":1.7},{"t":55,"c":3.4},{"t":55.25,"c":8.5},{"t":55.5,"c":3.4},{"t":55.75,"c":6.8},{"t":56,"c":3.4},{"t":56.25,"c":6.8},{"t":56.5,"c":1.7},{"t":56.75,"c":0},{"t":57,"c":6.8},{"t":57.25,"c":5.1},{"t":57.5,"c":3.4},{"t":57.75,"c":3.4},{"t":58,"c":1.7},{"t":58.25,"c":3.4},{"t":58.5,"c":3.4},{"t":58.75,"c":0},{"t":59,"c":0},{"t":59.25,"c":6.8},{"t":59.5,"c":3.4},{"t":59.75,"c":3.4},{"t":60,"c":6.8},
{"t":60.5,"c":1.7},{"t":61,"c":3.4},{"t":61.5,"c":0},{"t":62,"c":0},{"t":62.5,"c":6.8},{"t":63,"c":0},{"t":63.5,"c":6.8},{"t":64,"c":0},{"t":64.5,"c":0},{"t":65,"c":3.4},
{"t":65.5,"c":3.4},{"t":66,"c":1.7},{"t":66.5,"c":3.4},{"t":67,"c":1.7},{"t":67.5,"c":1.7},{"t":68,"c":0},{"t":68.5,"c":3.4},{"t":69,"c":3.4},{"t":69.5,"c":5.1},{"t":70,"c":1.7},
{"t":70.5,"c":0},{"t":71,"c":1.7},{"t":71.5,"c":0},{"t":72,"c":0},{"t":72.5,"c":0},{"t":73,"c":1.7},{"t":73.5,"c":1.7},{"t":74,"c":0},{"t":74.5,"c":3.4},{"t":75,"c":5.1},
{"t":75.5,"c":0},{"t":76,"c":0},{"t":76.5,"c":3.4},{"t":77,"c":3.4},{"t":77.5,"c":0},{"t":78,"c":0},{"t":78.5,"c":1.7},{"t":79,"c":1.7},{"t":79.5,"c":0},{"t":80,"c":0},
{"t":80.5,"c":1.7},{"t":81,"c":1.7},{"t":81.5,"c":0},{"t":82,"c":0},{"t":82.5,"c":3.4},{"t":83,"c":0},{"t":83.5,"c":0},{"t":84,"c":0},{"t":84.5,"c":1.7},{"t":85,"c":1.7},
{"t":85.5,"c":0},{"t":86,"c":0},{"t":86.5,"c":1.7},{"t":87,"c":0},{"t":87.5,"c":1.7},{"t":88,"c":1.7},{"t":88.5,"c":1.7},{"t":89,"c":0},{"t":89.5,"c":1.7},{"t":90,"c":0},
{"t":90.5,"c":0},{"t":91,"c":0},{"t":91.5,"c":0},{"t":92,"c":1.7},{"t":92.5,"c":0},{"t":93,"c":0},{"t":93.5,"c":0},{"t":94,"c":0},{"t":94.5,"c":1.7},{"t":95,"c":0},
{"t":95.5,"c":1.7},{"t":96,"c":1.7},{"t":96.5,"c":0},{"t":97,"c":0},{"t":97.5,"c":0},{"t":98,"c":1.7},{"t":98.5,"c":0},{"t":99,"c":0},{"t":99.5,"c":1.7},{"t":100,"c":0},
{"t":100.5,"c":0},{"t":101,"c":0},{"t":101.5,"c":0},{"t":102,"c":0},{"t":102.5,"c":0},{"t":103,"c":0},{"t":103.5,"c":0},{"t":104,"c":0},{"t":104.5,"c":0},{"t":105,"c":0},
{"t":105.5,"c":0},{"t":106,"c":0},{"t":106.5,"c":0},{"t":107,"c":0},{"t":107.5,"c":0},{"t":108,"c":1.7},{"t":108.5,"c":0},{"t":109,"c":0},{"t":109.5,"c":0},{"t":110,"c":0},
{"t":110.5,"c":0},{"t":111,"c":0},{"t":111.5,"c":1.7},{"t":112,"c":1.7},{"t":112.5,"c":0},{"t":113,"c":0},{"t":113.5,"c":0},{"t":114,"c":1.7},{"t":114.5,"c":0},{"t":115,"c":0},
{"t":115.5,"c":0},{"t":116,"c":0},{"t":116.5,"c":0},{"t":117,"c":0},{"t":117.5,"c":0},{"t":118,"c":0},{"t":118.5,"c":0},{"t":119,"c":1.7},{"t":119.5,"c":0},{"t":120,"c":1.7},
{"t":120.5,"c":0},{"t":121,"c":0},{"t":121.5,"c":0},{"t":122,"c":0},{"t":122.5,"c":0},{"t":123,"c":0},{"t":123.5,"c":0},{"t":124,"c":0},{"t":124.5,"c":0},{"t":125,"c":0},
{"t":125.5,"c":0},{"t":126,"c":0},{"t":126.5,"c":0},{"t":127,"c":0},{"t":127.5,"c":0},{"t":128,"c":0},{"t":128.5,"c":0},{"t":129,"c":0},{"t":129.5,"c":0},{"t":130,"c":0},
{"t":130.5,"c":0},{"t":131,"c":0},{"t":131.5,"c":0},{"t":132,"c":0},{"t":132.5,"c":1.7},{"t":133,"c":0},{"t":133.5,"c":0},{"t":134,"c":0},{"t":134.5,"c":0},{"t":135,"c":0},
{"t":135.5,"c":0},{"t":136,"c":0},{"t":136.5,"c":0},{"t":137,"c":0},{"t":137.5,"c":1.7},{"t":138,"c":0},{"t":138.5,"c":0},{"t":139,"c":0},{"t":139.5,"c":0},{"t":140,"c":0},
{"t":140.5,"c":0},{"t":141,"c":0},{"t":141.5,"c":0},{"t":142,"c":0},{"t":142.5,"c":0},{"t":143,"c":0},{"t":143.5,"c":0},{"t":144,"c":0},{"t":144.5,"c":0},{"t":145,"c":0},
{"t":145.5,"c":1.7},{"t":146,"c":0},{"t":146.5,"c":0},{"t":147,"c":0},{"t":147.5,"c":0},{"t":148,"c":0},{"t":148.5,"c":1.7},{"t":149,"c":0},{"t":149.5,"c":0},{"t":150,"c":0},
{"t":150.5,"c":0},{"t":151,"c":0},{"t":151.5,"c":0},{"t":152,"c":0},{"t":152.5,"c":0},{"t":153,"c":0},{"t":153.5,"c":0},{"t":154,"c":0},{"t":154.5,"c":0},{"t":155,"c":0},
{"t":155.5,"c":0},{"t":156,"c":0},{"t":156.5,"c":0},{"t":157,"c":1.7},{"t":157.5,"c":0},{"t":158,"c":1.7},{"t":158.5,"c":0},{"t":159,"c":0},{"t":159.5,"c":0},{"t":160,"c":0},
{"t":160.5,"c":1.7},{"t":161,"c":0},{"t":161.5,"c":0},{"t":162,"c":0},{"t":162.5,"c":0},{"t":163,"c":0},{"t":163.5,"c":0},{"t":164,"c":0},{"t":164.5,"c":1.7},{"t":165,"c":0},
{"t":165.5,"c":0},{"t":166,"c":0},{"t":166.5,"c":0},{"t":167,"c":0},{"t":167.5,"c":0},{"t":168,"c":1.7},{"t":168.5,"c":0},{"t":169,"c":0},{"t":169.5,"c":0},{"t":170,"c":0},
{"t":170.5,"c":0},{"t":171,"c":0},{"t":171.5,"c":0},{"t":172,"c":0},{"t":172.5,"c":0},{"t":173,"c":0},{"t":173.5,"c":0},{"t":174,"c":0},{"t":174.5,"c":0},{"t":175,"c":0},
{"t":175.5,"c":0},{"t":176,"c":0},{"t":176.5,"c":0},{"t":177,"c":0},{"t":177.5,"c":0},{"t":178,"c":0},{"t":178.5,"c":0},{"t":179,"c":0},{"t":179.5,"c":0},{"t":180,"c":0},
{"t":180.5,"c":0},{"t":181,"c":0},{"t":181.5,"c":1.7},{"t":182,"c":0},{"t":182.5,"c":0},{"t":183,"c":0},{"t":183.5,"c":0},{"t":184,"c":0},{"t":184.5,"c":0},{"t":185,"c":0},
{"t":185.5,"c":0},{"t":186,"c":0},{"t":186.5,"c":1.7},{"t":187,"c":0},{"t":187.5,"c":0},{"t":188,"c":0},{"t":188.5,"c":1.7},{"t":189,"c":0},{"t":189.5,"c":0},{"t":190,"c":0},
{"t":190.5,"c":0},{"t":191,"c":0},{"t":191.5,"c":0},{"t":192,"c":0},{"t":192.5,"c":0},{"t":193,"c":0},{"t":193.5,"c":1.7},{"t":194,"c":1.7},{"t":194.5,"c":0},{"t":195,"c":1.7},
{"t":195.5,"c":1.7},{"t":196,"c":0},{"t":196.5,"c":0},{"t":197,"c":1.7},{"t":197.5,"c":0},{"t":198,"c":0},{"t":198.5,"c":0},{"t":199,"c":0},{"t":199.5,"c":0}],
"fit":[{"t":8.4,"c":80.3},{"t":9,"c":77.4},{"t":10,"c":72.6},{"t":11,"c":68.0},{"t":12,"c":63.8},{"t":13,"c":59.8},{"t":14,"c":56.1},{"t":15,"c":52.6},{"t":16,"c":49.3},{"t":17,"c":46.2},{"t":18,"c":43.3},{"t":19,"c":40.6},{"t":20,"c":38.1},{"t":22,"c":33.4},{"t":24,"c":29.4},{"t":26,"c":25.9},{"t":28,"c":22.7},{"t":30,"c":20.0},{"t":32,"c":17.6},{"t":34,"c":15.5},{"t":36,"c":13.6},{"t":38,"c":12.0},{"t":40,"c":10.5},{"t":43,"c":8.7},{"t":46,"c":7.2},{"t":50,"c":5.6},{"t":55,"c":4.1},{"t":60,"c":3.0},{"t":65,"c":2.23},{"t":70,"c":1.66},{"t":75,"c":1.25},{"t":80,"c":0.96},{"t":90,"c":0.59},{"t":100,"c":0.39},{"t":110,"c":0.27},{"t":120,"c":0.24},{"t":135,"c":0.2},{"t":150,"c":0.19},{"t":170,"c":0.18},{"t":194,"c":0.18}],
"table":[{"row":1,"param":"Model","value":"ExpDec1"},{"row":2,"param":"Equation","value":"y = A1*exp(-x/t1) + y0"},{"row":3,"param":"Plot","value":"Exp."},{"row":4,"param":"y0","value":"0.17992 ± 0.07124"},{"row":5,"param":"A1","value":"138.43349 ± 1.16245"},{"row":6,"param":"t1","value":"15.43187 ± 0.12212"},{"row":7,"param":"Reduced Chi-Sqr","value":"6.42946"},{"row":8,"param":"R-Square (COD)","value":"0.97229"},{"row":9,"param":"Adj. R-Square","value":"0.97226"}]
},
"layer":[
{"layer":[
 {"data":{"name":"irf"},"mark":{"type":"point","filled":true,"size":2200,"opacity":1,"strokeWidth":0},
  "encoding":{
   "x":{"field":"t","type":"quantitative","scale":{"domain":[-6.5,200],"nice":false,"zero":false},
     "axis":{"title":"Time (ns)","values":[0,10,20,30,40,50,60,70,80,90,100,110,120,130,140,150,160,170,180,190,200],"labelExpr":"datum.value % 20 === 0 ? datum.label : ''","tickSize":{"condition":{"test":"datum.value % 20 === 0","value":8},"value":5},"labelFontSize":20,"titleFontSize":28,"labelPadding":10,"titlePadding":18}},
   "y":{"field":"c","type":"quantitative","scale":{"domain":[-10,110],"nice":false,"zero":false},
     "axis":{"title":"Count","values":[0,10,20,30,40,50,60,70,80,90,100],"labelExpr":"datum.value % 20 === 0 ? datum.label : ''","tickSize":{"condition":{"test":"datum.value % 20 === 0","value":8},"value":5},"labelFontSize":20,"titleFontSize":25,"labelPadding":4,"titlePadding":38}},
   "color":{"datum":"IRF","type":"nominal","scale":{"domain":["IRF","Exp.","Fit Curve"],"range":["#000000","#ff0000","#1f1fd6"]},
     "legend":{"title":null,"orient":"none","legendX":533,"legendY":24,"strokeColor":"#000","fillColor":"#fff","padding":3,"labelFontSize":19,"labelFont":"Liberation Sans","labelColor":"#000","symbolSize":1900,"symbolStrokeWidth":0,"clipHeight":22,"rowPadding":2,"labelOffset":4}},
   "shape":{"datum":"IRF","type":"nominal","scale":{"domain":["IRF","Exp.","Fit Curve"],"range":["M-0.13,-0.13H0.13V0.13H-0.13Z","M-0.13,-0.13H0.13V0.13H-0.13Z","M-1,-0.075H1V0.075H-1Z"]},
     "legend":{"title":null,"orient":"none","legendX":533,"legendY":24,"strokeColor":"#000","fillColor":"#fff","padding":3,"labelFontSize":19,"labelFont":"Liberation Sans","labelColor":"#000","symbolSize":1900,"symbolStrokeWidth":0,"clipHeight":22,"rowPadding":2,"labelOffset":4}}}},
 {"data":{"name":"exp"},"mark":{"type":"point","filled":true,"size":2200,"opacity":1,"strokeWidth":0},
  "encoding":{"x":{"field":"t","type":"quantitative"},"y":{"field":"c","type":"quantitative"},"color":{"datum":"Exp.","type":"nominal"},"shape":{"datum":"Exp.","type":"nominal"}}},
 {"data":{"name":"fit"},"mark":{"type":"line","strokeWidth":3,"interpolate":"monotone"},
  "encoding":{"x":{"field":"t","type":"quantitative"},"y":{"field":"c","type":"quantitative"},"color":{"datum":"Fit Curve","type":"nominal"}}},
 {"data":{"values":[{"label":"τ=15.43 ± 0.12 ns"}]},"mark":{"type":"text","fontSize":18,"font":"Liberation Sans","color":"#000","align":"center","baseline":"middle"},
  "encoding":{"x":{"datum":126.5,"type":"quantitative"},"y":{"datum":15.6,"type":"quantitative"},"text":{"field":"label"}}}
]},
{"data":{"name":"table"},
 "layer":[
  {"mark":{"type":"rect","fill":"#fff","stroke":"#8c8c8c","strokeWidth":1},
   "encoding":{"x":{"datum":"p","type":"nominal","scale":{"domain":["p","v"],"range":[435,671],"paddingInner":0,"paddingOuter":0},"axis":null},
     "y":{"field":"row","type":"ordinal","scale":{"domain":[1,2,3,4,5,6,7,8,9],"range":[150,314],"paddingInner":0,"paddingOuter":0},"axis":null}}},
  {"mark":{"type":"rect","fill":"#fff","stroke":"#8c8c8c","strokeWidth":1},
   "encoding":{"x":{"datum":"v","type":"nominal"},"y":{"field":"row","type":"ordinal"}}},
  {"mark":{"type":"text","align":"left","baseline":"middle","dx":4,"fontSize":12,"font":"Liberation Sans","color":"#000"},
   "encoding":{"x":{"datum":"p","type":"nominal","bandPosition":0},"y":{"field":"row","type":"ordinal","bandPosition":0.5},"text":{"field":"param"}}},
  {"mark":{"type":"text","align":"center","baseline":"middle","fontSize":12,"font":"Liberation Sans","color":"#000"},
   "encoding":{"x":{"datum":"v","type":"nominal","bandPosition":0.5},"y":{"field":"row","type":"ordinal","bandPosition":0.5},"text":{"field":"value"}}}
 ]}
],
"resolve":{"scale":{"x":"independent","y":"independent"}}
}
